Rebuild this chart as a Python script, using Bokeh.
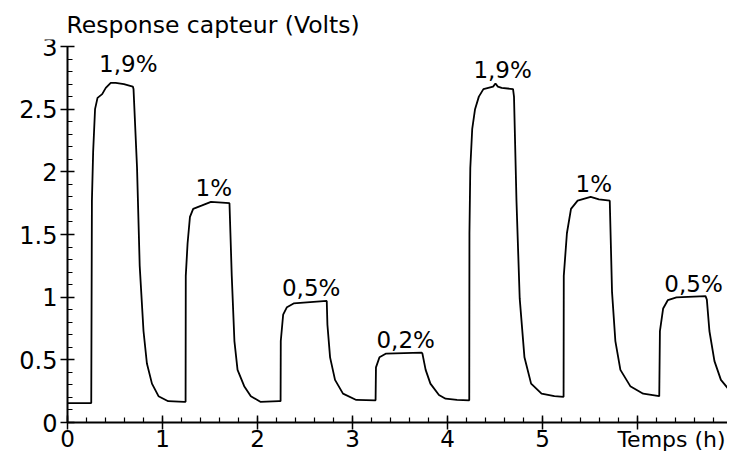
from bokeh.plotting import figure
from bokeh.models import FixedTicker, Label, Range1d
from bokeh.core.properties import value
from bokeh.embed import file_html
from bokeh.resources import INLINE

# --- data (time in hours, response in volts) ---
temps_h = [
    0.0, 0.25, 0.257, 0.27, 0.29, 0.316, 0.365, 0.403, 0.455, 0.507, 0.594, 0.6875, 0.695,
    0.732, 0.76, 0.80, 0.836, 0.889, 0.958, 1.06, 1.23,
    1.243, 1.245, 1.264, 1.289, 1.323, 1.41, 1.51, 1.705, 1.729, 1.757, 1.79, 1.86, 1.93, 2.03, 2.226,
    2.243, 2.245, 2.27, 2.31, 2.38, 2.729, 2.736, 2.764, 2.816, 2.90, 3.04, 3.243,
    3.247, 3.284, 3.354, 3.729, 3.736, 3.77, 3.82, 3.91, 3.98, 4.10, 4.229,
    4.231, 4.24, 4.26, 4.29, 4.33, 4.378, 4.48, 4.505, 4.53, 4.57, 4.69, 4.70, 4.726, 4.76, 4.81,
    4.88, 4.99, 5.125, 5.222,
    5.224, 5.257, 5.30, 5.37, 5.507, 5.594, 5.708, 5.732, 5.767, 5.82, 5.924, 6.06, 6.229,
    6.236, 6.27, 6.32, 6.41, 6.716, 6.73, 6.757, 6.81, 6.878, 6.965, 7.0,
]
reponse_v = [
    0.155, 0.155, 1.77, 2.16, 2.50, 2.59, 2.62, 2.67, 2.71, 2.71, 2.70, 2.68, 2.66,
    2.03, 1.25, 0.73, 0.47, 0.31, 0.21, 0.17, 0.165,
    0.165, 1.17, 1.43, 1.64, 1.705, 1.73, 1.76, 1.75, 1.17, 0.65, 0.42, 0.29, 0.21, 0.165, 0.17,
    0.17, 0.65, 0.86, 0.92, 0.95, 0.97, 0.78, 0.52, 0.34, 0.23, 0.18, 0.177,
    0.44, 0.52, 0.55, 0.557, 0.55, 0.42, 0.31, 0.22, 0.19, 0.18, 0.177,
    1.51, 2.03, 2.34, 2.50, 2.60, 2.66, 2.68, 2.705, 2.68, 2.67, 2.66, 2.60, 1.77, 0.99, 0.52,
    0.31, 0.23, 0.21, 0.205,
    1.17, 1.51, 1.705, 1.77, 1.80, 1.78, 1.77, 1.04, 0.65, 0.42, 0.29, 0.23, 0.21,
    0.73, 0.91, 0.977, 0.998, 1.008, 0.98, 0.73, 0.49, 0.34, 0.26, 0.24,
]

# concentration labels above each pulse
label_x = [0.64, 1.54, 2.565, 3.56, 4.58, 5.54, 6.59]
label_y = [2.86, 1.87, 1.07, 0.66, 2.81, 1.90, 1.106]
label_txt = ["1,9%", "1%", "0,5%", "0,2%", "1,9%", "1%", "0,5%"]

x_major = [0, 1, 2, 3, 4, 5, 6, 7]
x_tick_labels = {0: "0", 1: "1", 2: "2", 3: "3", 4: "4", 5: "5", 6: "", 7: ""}
y_major = [0, 0.5, 1, 1.5, 2, 2.5, 3]
y_tick_labels = {0: "0", 0.5: "0.5", 1: "1", 1.5: "1.5", 2: "2", 2.5: "2.5", 3: "3"}

FONT = "DejaVu Sans"
W, H = 727, 452
TOP = 39                       # space kept for the title
X0_PX, X_SCALE = 67, 95.0      # pixel of t=0, pixels per hour
Y0_PX, Y3_PX = 422, 46         # pixel rows of 0 V and 3 V
y_scale = (Y0_PX - Y3_PX) / 3.0
x_start = -X0_PX / X_SCALE
x_end = (W - X0_PX) / X_SCALE
y_start = -(H - Y0_PX) / y_scale
y_end = 3.0 + (Y3_PX - TOP) / y_scale

p = figure(width=W, height=H, output_backend="svg", toolbar_location=None,
           x_range=Range1d(x_start, x_end), y_range=Range1d(y_start, y_end),
           min_border_left=0, min_border_right=0, min_border_top=TOP, min_border_bottom=0)
p.outline_line_color = None
p.xgrid.visible = False
p.ygrid.visible = False
p.background_fill_color = "white"
p.border_fill_color = "white"

p.title.text = "Response capteur (Volts)"
p.title.text_font = FONT
p.title.text_font_size = "23.5px"
p.title.text_font_style = "normal"
p.title.text_color = "black"
p.title.align = "left"
p.title.offset = X0_PX - 1
p.title.standoff = 2

p.line(temps_h, reponse_v, line_color="black", line_width=1.8)

p.text(x=label_x, y=label_y, text=label_txt, text_font=value(FONT),
       text_font_size="23px", text_align="center", text_baseline="middle", text_color="black")

minor_x = [i * 0.2 for i in range(36)]
minor_y = [i * 0.1 for i in range(31)]
p.xaxis.ticker = FixedTicker(ticks=x_major, minor_ticks=minor_x)
p.yaxis.ticker = FixedTicker(ticks=y_major, minor_ticks=minor_y)
p.xaxis.major_label_overrides = x_tick_labels
p.yaxis.major_label_overrides = y_tick_labels
p.xaxis.fixed_location = 0
p.yaxis.fixed_location = 0
p.xaxis.bounds = (0, x_end)
p.yaxis.bounds = (0, 3)

for ax in (p.xaxis, p.yaxis):
    ax.axis_line_color = "black"
    ax.axis_line_width = 2
    ax.major_tick_line_color = "black"
    ax.major_tick_line_width = 1.5
    ax.minor_tick_line_color = "black"
    ax.minor_tick_line_width = 1.2
    ax.major_tick_in = 7
    ax.major_tick_out = 7
    ax.minor_tick_in = 5
    ax.minor_tick_out = 0
    ax.major_label_text_font = FONT
    ax.major_label_text_color = "black"
p.xaxis.major_label_text_font_size = "23px"
p.yaxis.major_label_text_font_size = "24px"
p.xaxis.major_label_standoff = 0
p.yaxis.major_label_standoff = 3

p.add_layout(Label(x=x_end - 0.02, y=-0.032, text="Temps (h)", text_align="right",
                   text_baseline="top", text_font=FONT, text_font_size="22px",
                   text_color="black"))

open("out.html", "w").write(file_html(p, INLINE))
